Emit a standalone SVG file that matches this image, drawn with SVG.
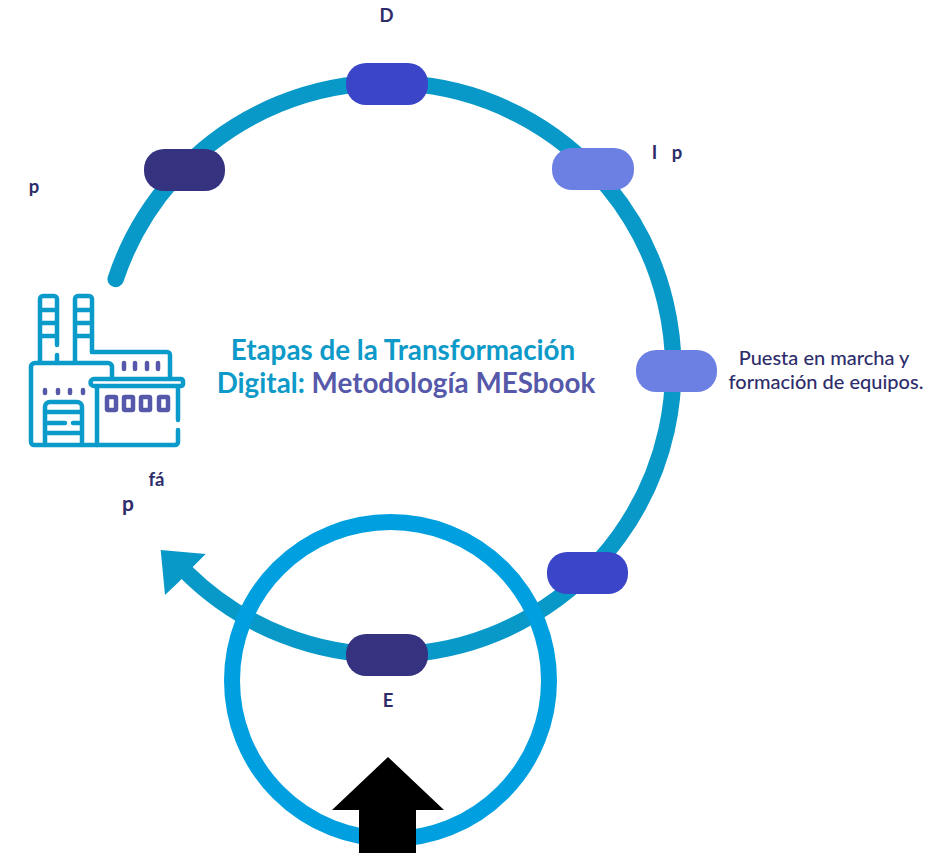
<svg xmlns="http://www.w3.org/2000/svg" width="928" height="853" viewBox="0 0 928 853">
<style>
text{font-family:Lato,"Open Sans",sans-serif}
.lab{font-size:18.500px;font-weight:700;fill:#2E2D6B;text-anchor:middle}
.desc{font-size:20px;font-weight:500;fill:#2E2D6B;text-anchor:middle}
.title{font-size:27.800px;font-weight:700;fill:#0D9AC8;text-anchor:middle}
.pill{stroke:none}
.ic{fill:none;stroke:#0A9BCB;stroke-width:4.500;stroke-linecap:round;stroke-linejoin:round}
.ip{fill:none;stroke:#5659A9;stroke-width:4.500;stroke-linecap:round;stroke-linejoin:round}
</style>
<rect width="928" height="853" fill="#fff"/>
<g id="connectors">
<path d="M115.700 279 A286 286 0 1 1 186 572" fill="none" stroke="#0899C8" stroke-width="16.500" stroke-linecap="round"/>
<polygon points="160.700,550 205.700,554 190.700,569 179,581.700 165,595" fill="#0899C8"/>
</g>
<g id="ring"><circle cx="390.500" cy="680.500" r="158.500" fill="none" stroke="#009FE0" stroke-width="16"/></g>
<g id="up-arrow"><polygon points="388,757 444,810 416,810 416,853 359,853 359,810 332,810" fill="#000"/></g>
<g id="node-d"><rect class="pill" x="346" y="63" width="82" height="42" rx="20" fill="#3A45C8"/><text class="lab" x="386.500" y="21.500">D</text></g>
<g id="node-p1"><rect class="pill" x="144" y="149" width="81" height="42" rx="20" fill="#35337F"/><text class="lab" x="34" y="193">p</text></g>
<g id="node-i"><rect class="pill" x="552" y="148" width="82" height="42" rx="20" fill="#6C80E4"/><text class="lab" x="654.500" y="159">I</text><text class="lab" x="677" y="159">p</text></g>
<g id="node-puesta"><rect class="pill" x="636" y="350" width="81" height="42" rx="20" fill="#6C80E4"/><text class="desc" x="824" y="365">Puesta en marcha y</text><text class="desc" x="826" y="389">formación de equipos.</text></g>
<g id="node-blue"><rect class="pill" x="547" y="552" width="81" height="42" rx="20" fill="#3A45C8"/></g>
<g id="node-e"><rect class="pill" x="346" y="634" width="82" height="42" rx="20" fill="#35337F"/><text class="lab" x="388" y="707">E</text></g>
<g id="title"><text class="title" x="403" y="360">Etapas de la Transformación</text><text class="title" x="406" y="393">Digital: <tspan fill="#5659A9">Metodología MESbook</tspan></text></g>
<g id="factory">
<path class="ic" d="M40 362V299a3 3 0 0 1 3-3h11a3 3 0 0 1 3 3V345M57 355V362M40 310H57M40 323H57M40 336H57"/>
<path class="ic" d="M75 362V299a3 3 0 0 1 3-3h11a3 3 0 0 1 3 3V352M75 310H92M75 323H92M75 336H92"/>
<path class="ic" d="M92 352H167a3 3 0 0 1 3 3V377"/>
<path class="ic" d="M112 377V367a4 4 0 0 0-4-4H35a4 4 0 0 0-4 4V442a3 3 0 0 0 3 3H175a3 3 0 0 0 3-3V430M178 420V388"/>
<path class="ic" d="M94 379H181a2 2 0 0 1 2 2V384a2 2 0 0 1-2 2H94a3.500 3.500 0 0 1 0-7ZM97 388V445"/>
<path class="ic" d="M45 445V407a5 5 0 0 1 5-5H77a5 5 0 0 1 5 5V445M46 412H81M46 433H81M46 423H65M73 423H81"/>
<path class="ip" d="M45 390V393M58 390V393M70 390V393M83 390V393M124 363V369M135 363V369M147 363V369M158 363V369"/>
<g class="ip"><rect x="107" y="397" width="9" height="13" rx="1"/><rect x="124" y="397" width="9" height="13" rx="1"/><rect x="141" y="397" width="9" height="13" rx="1"/><rect x="159" y="397" width="9" height="13" rx="1"/></g>
</g>
<g id="factory-label"><text class="lab" x="156.500" y="486">fá</text><text class="lab" x="128" y="511" style="font-size:21px">p</text></g>
</svg>
